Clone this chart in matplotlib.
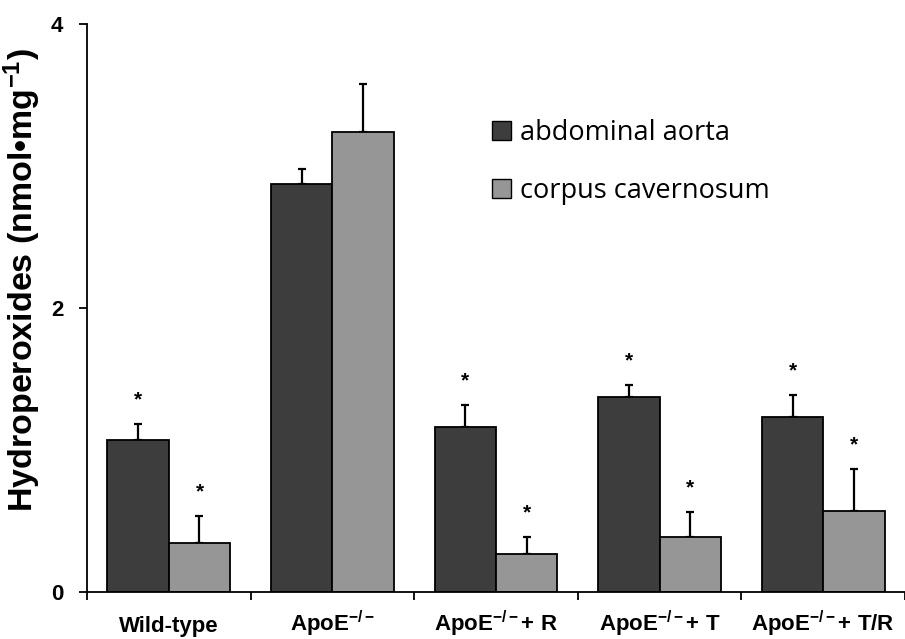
import matplotlib
matplotlib.use("Agg")
import matplotlib.pyplot as plt
import numpy as np
from matplotlib.patches import Patch

plt.rcParams['mathtext.fontset'] = 'custom'
plt.rcParams['mathtext.rm'] = 'Liberation Sans:bold'
plt.rcParams['mathtext.bf'] = 'Liberation Sans:bold'
plt.rcParams['mathtext.it'] = 'Liberation Sans:bold'

categories = ['Wild-type', r'ApoE$^{-/-}$', r'ApoE$^{-/-}$+ R',
              r'ApoE$^{-/-}$+ T', r'ApoE$^{-/-}$+ T/R']
series_names = ['abdominal aorta', 'corpus cavernosum']
aorta_mean = [1.07, 2.87, 1.165, 1.375, 1.235]
aorta_err = [0.11, 0.11, 0.155, 0.085, 0.155]
cavern_mean = [0.347, 3.24, 0.265, 0.388, 0.571]
cavern_err = [0.19, 0.335, 0.123, 0.176, 0.294]
aorta_sig = [True, False, True, True, True]
cavern_sig = [True, False, True, True, True]
yticks = [0, 2, 4]

dark = '#3d3d3d'
light = '#969696'

fig = plt.figure(figsize=(9.05, 6.39), dpi=100)
W, H = 905, 639
ax = fig.add_axes([87 / W, (H - 592) / H, (905 - 87) / W, (592 - 24) / H])

x = np.arange(len(categories))
bw = 0.375
ax.bar(x - bw / 2, aorta_mean, bw, color=dark, edgecolor='black', linewidth=1.3, zorder=2)
ax.bar(x + bw / 2, cavern_mean, bw, color=light, edgecolor='black', linewidth=1.3, zorder=2)
ax.errorbar(x - bw / 2, aorta_mean, yerr=[np.zeros(len(x)), aorta_err], fmt='none',
            ecolor='black', elinewidth=1.6, capsize=3.2, capthick=1.6, zorder=1)
ax.errorbar(x + bw / 2, cavern_mean, yerr=[np.zeros(len(x)), cavern_err], fmt='none',
            ecolor='black', elinewidth=1.6, capsize=3.2, capthick=1.6, zorder=1)

off = 0.17
for i in range(len(x)):
    if aorta_sig[i]:
        ax.text(x[i] - bw / 2, aorta_mean[i] + aorta_err[i] + off, '*', ha='center', va='center',
                fontsize=15, fontweight='bold', family='Liberation Sans')
    if cavern_sig[i]:
        ax.text(x[i] + bw / 2, cavern_mean[i] + cavern_err[i] + off, '*', ha='center', va='center',
                fontsize=15, fontweight='bold', family='Liberation Sans')

ax.set_ylim(0, 4)
ax.set_xlim(-0.5, -0.5 + (905 - 86.5) / 165.25)
ax.set_yticks(yticks)
ax.set_yticklabels([str(t) for t in yticks], fontsize=16, fontweight='bold', family='Liberation Sans')
ax.tick_params(axis='y', direction='out', length=6, width=1.3, pad=11)

ax.set_xticks(x)
ax.set_xticklabels(categories, fontsize=16, fontweight='bold', family='Liberation Sans')
for lab in ax.get_xticklabels():
    lab.set_va('baseline')
ax.set_xticks(np.arange(-0.5, len(x) - 0.4, 1.0), minor=True)
ax.tick_params(axis='x', which='major', length=0, pad=28.5)
ax.tick_params(axis='x', which='minor', direction='out', length=6, width=1.3)

for s in ['top', 'right']:
    ax.spines[s].set_visible(False)
ax.spines['left'].set_linewidth(1.3)
ax.spines['bottom'].set_linewidth(1.3)

ax.set_ylabel(r'Hydroperoxides (nmol•mg$^{-1}$)', fontsize=24.5, fontweight='bold',
              family='Liberation Sans')
ax.yaxis.label.set_va('center')
ax.yaxis.set_label_coords((22 - 87) / 818, (592 - 280) / 568)

handles = [Patch(facecolor=dark, edgecolor='black', linewidth=1.0),
           Patch(facecolor=light, edgecolor='black', linewidth=1.0)]
leg = fig.legend(handles, series_names, loc='upper left', bbox_to_anchor=(492 / W, (H - 119) / H),
                 frameon=False, prop={'family': 'Open Sans', 'size': 19.5},
                 borderpad=0, borderaxespad=0,
                 handlelength=0.7, handleheight=0.7, handletextpad=0.35, labelspacing=1.1)

fig.savefig('out.png', dpi=100)
